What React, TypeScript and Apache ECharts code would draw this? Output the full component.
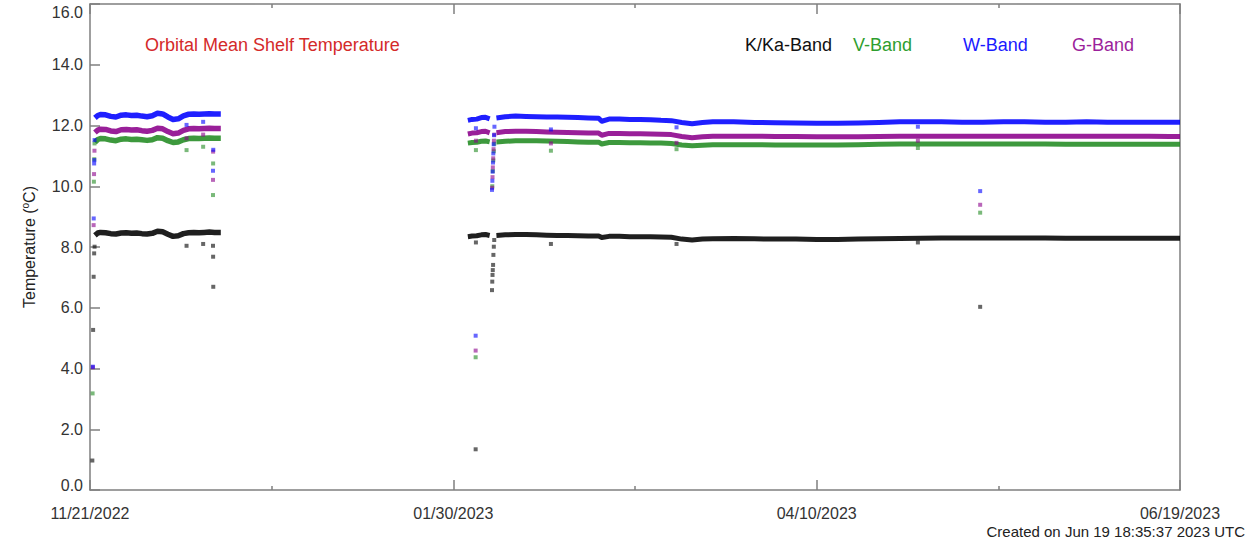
import React, { useEffect, useRef } from 'react';
import * as echarts from 'echarts';

const FONT = '"Liberation Sans", Arial, Helvetica, sans-serif';

const xTickLabels = ['11/21/2022', '01/30/2023', '04/10/2023', '06/19/2023'];
const xMin = 0;
const xMax = 210;
const xStep = 70;
const yMin = 0;
const yMax = 16;
const yStep = 2;

const titleText = 'Orbital Mean Shelf Temperature';
const bandNames = ['K/Ka-Band', 'V-Band', 'W-Band', 'G-Band'];
const createdText = 'Created on Jun 19 18:35:37 2023 UTC';

// days since 11/21/2022
const seg1Days = [0.95, 1.5, 2, 3, 4, 5, 6, 7, 8, 9, 10, 11, 12, 13, 14, 15, 16, 17, 18, 19, 20, 21, 22, 23, 24, 25.2];
const wSeg1 = [12.25, 12.33, 12.36, 12.35, 12.30, 12.28, 12.34, 12.35, 12.33, 12.34, 12.31, 12.29, 12.32, 12.40, 12.38, 12.28, 12.20, 12.22, 12.32, 12.37, 12.38, 12.37, 12.38, 12.39, 12.38, 12.38];
const gSeg1 = [11.77, 11.85, 11.88, 11.87, 11.82, 11.80, 11.86, 11.87, 11.85, 11.86, 11.83, 11.81, 11.84, 11.91, 11.89, 11.80, 11.73, 11.75, 11.84, 11.89, 11.90, 11.89, 11.90, 11.91, 11.90, 11.90];
const vSeg1 = [11.45, 11.54, 11.57, 11.56, 11.52, 11.50, 11.55, 11.56, 11.54, 11.55, 11.53, 11.51, 11.53, 11.60, 11.58, 11.50, 11.44, 11.46, 11.53, 11.57, 11.58, 11.57, 11.58, 11.59, 11.58, 11.58];
const kSeg1 = [8.38, 8.46, 8.48, 8.47, 8.44, 8.43, 8.46, 8.47, 8.45, 8.46, 8.44, 8.43, 8.45, 8.52, 8.50, 8.42, 8.35, 8.37, 8.44, 8.47, 8.48, 8.47, 8.48, 8.49, 8.48, 8.48];

const seg2aDays = [72.8, 73.6, 74.5, 75.4, 76.2, 77.0];
const wSeg2a = [12.17, 12.20, 12.21, 12.26, 12.27, 12.22];
const gSeg2a = [11.72, 11.75, 11.76, 11.80, 11.81, 11.76];
const vSeg2a = [11.42, 11.44, 11.45, 11.48, 11.49, 11.46];
const kSeg2a = [8.34, 8.36, 8.37, 8.40, 8.41, 8.38];

const seg2bDays = [78.3, 80, 82, 84, 86, 88, 90, 92, 94, 96, 98, 98.6, 100, 102, 104, 106, 108, 110, 112, 114, 116, 118, 120, 124, 128, 132, 136, 140, 144, 148, 152, 156, 160, 164, 168, 172, 176, 180, 184, 188, 192, 196, 200, 204, 208, 210];
const wSeg2b = [12.25, 12.29, 12.31, 12.30, 12.29, 12.28, 12.28, 12.27, 12.26, 12.25, 12.24, 12.14, 12.21, 12.21, 12.20, 12.20, 12.19, 12.17, 12.16, 12.10, 12.06, 12.10, 12.12, 12.12, 12.10, 12.09, 12.08, 12.07, 12.07, 12.08, 12.10, 12.12, 12.12, 12.12, 12.11, 12.11, 12.12, 12.12, 12.11, 12.11, 12.12, 12.11, 12.11, 12.11, 12.11, 12.11];
const gSeg2b = [11.76, 11.80, 11.81, 11.81, 11.80, 11.79, 11.78, 11.77, 11.76, 11.75, 11.75, 11.68, 11.74, 11.74, 11.73, 11.73, 11.72, 11.71, 11.70, 11.64, 11.60, 11.63, 11.65, 11.65, 11.65, 11.64, 11.64, 11.63, 11.63, 11.63, 11.64, 11.65, 11.65, 11.65, 11.65, 11.65, 11.65, 11.65, 11.65, 11.65, 11.65, 11.65, 11.65, 11.65, 11.64, 11.64];
const vSeg2b = [11.46, 11.48, 11.50, 11.50, 11.50, 11.49, 11.48, 11.47, 11.46, 11.45, 11.45, 11.39, 11.44, 11.44, 11.43, 11.43, 11.42, 11.42, 11.41, 11.36, 11.33, 11.35, 11.37, 11.37, 11.37, 11.36, 11.36, 11.36, 11.36, 11.37, 11.38, 11.39, 11.39, 11.39, 11.39, 11.39, 11.39, 11.39, 11.39, 11.38, 11.38, 11.38, 11.38, 11.38, 11.38, 11.38];
const kSeg2b = [8.38, 8.40, 8.41, 8.41, 8.40, 8.39, 8.38, 8.38, 8.37, 8.36, 8.36, 8.31, 8.35, 8.35, 8.34, 8.34, 8.34, 8.33, 8.32, 8.26, 8.23, 8.26, 8.27, 8.28, 8.27, 8.26, 8.26, 8.25, 8.25, 8.26, 8.27, 8.28, 8.29, 8.30, 8.30, 8.30, 8.30, 8.30, 8.30, 8.29, 8.29, 8.29, 8.29, 8.29, 8.29, 8.29];

// isolated samples [day, value]
const wOut = [[0.55, 4.06], [0.72, 8.94], [0.8, 10.75], [0.83, 10.86], [0.88, 11.52], [18.6, 12.02], [21.8, 12.12], [23.7, 10.51], [23.75, 11.2], [74.3, 5.08], [74.35, 11.91], [77.45, 9.88], [77.52, 10.18], [77.58, 10.48], [77.64, 10.78], [77.7, 11.08], [77.77, 11.38], [77.84, 11.68], [77.92, 11.96], [88.8, 11.87], [113.0, 11.94], [159.5, 11.96], [171.5, 9.84]];
const gOut = [[0.55, 4.04], [0.7, 8.72], [0.78, 10.40], [0.86, 11.17], [18.6, 11.58], [21.8, 11.70], [23.7, 10.21], [23.72, 11.14], [74.3, 4.59], [74.35, 11.50], [77.48, 9.95], [77.55, 10.3], [77.61, 10.62], [77.68, 10.92], [77.75, 11.22], [77.82, 11.5], [77.9, 11.7], [88.8, 11.41], [113.0, 11.43], [159.5, 11.50], [171.5, 9.39]];
const vOut = [[0.5, 3.18], [0.75, 10.15], [0.82, 10.89], [0.87, 11.41], [18.6, 11.19], [21.8, 11.30], [23.7, 9.71], [23.72, 10.75], [74.3, 4.37], [74.35, 11.19], [77.5, 10.0], [77.6, 10.5], [77.7, 10.85], [77.8, 11.15], [77.88, 11.4], [88.8, 11.17], [113.0, 11.22], [159.5, 11.26], [171.5, 9.13]];
const kOut = [[0.45, 0.97], [0.6, 5.27], [0.7, 7.02], [0.8, 7.79], [0.88, 8.01], [18.6, 8.04], [21.8, 8.10], [23.7, 8.04], [23.72, 7.68], [23.75, 6.69], [74.3, 1.34], [74.35, 8.15], [77.45, 6.58], [77.5, 6.86], [77.55, 7.08], [77.6, 7.24], [77.66, 7.41], [77.72, 7.74], [77.8, 8.01], [77.88, 8.23], [88.8, 8.10], [113.0, 8.10], [159.5, 8.15], [171.5, 6.03]];

const bandColors = ['#000000', '#228b22', '#0000ff', '#8b008b'];
const textColors = ['#111111', '#2e9e2e', '#1a1aff', '#9b1f9b'];

export default function App() {
  const ref = useRef<HTMLDivElement>(null);

  useEffect(() => {
    if (!ref.current) return;
    const chart = echarts.init(ref.current, null, { renderer: 'svg' });

    // index order matches bandNames / bandColors: K, V, W, G
    const bands = [
      { segs: [[seg1Days, kSeg1, 5.5], [seg2aDays, kSeg2a, 5], [seg2bDays, kSeg2b, 5]], out: kOut },
      { segs: [[seg1Days, vSeg1, 5.5], [seg2aDays, vSeg2a, 5], [seg2bDays, vSeg2b, 5]], out: vOut },
      { segs: [[seg1Days, wSeg1, 5.5], [seg2aDays, wSeg2a, 5], [seg2bDays, wSeg2b, 5]], out: wOut },
      { segs: [[seg1Days, gSeg1, 5.5], [seg2aDays, gSeg2a, 5], [seg2bDays, gSeg2b, 5]], out: gOut },
    ];
    const order = [0, 1, 3, 2];
    const series: any[] = [];
    order.forEach((bi, k) => {
      const b = bands[bi];
      const color = bandColors[bi];
      b.segs.forEach((s: any) => {
        const days = s[0] as number[];
        const vals = s[1] as number[];
        series.push({
          type: 'line',
          name: bandNames[bi],
          data: days.map((d, i) => [d, vals[i]]),
          symbol: 'none',
          showSymbol: false,
          silent: true,
          z: 2 + k,
          lineStyle: { color, width: s[2], opacity: 0.88, cap: 'butt', join: 'round' },
        });
      });
      series.push({
        type: 'scatter',
        name: bandNames[bi],
        data: b.out,
        symbol: 'rect',
        symbolSize: 4,
        silent: true,
        z: 6 + k,
        itemStyle: { color, opacity: 0.6 },
      });
    });

    const axisColor = '#7f7f7f';
    const lineStyle = { color: axisColor, width: 1.5 };

    chart.setOption({
      animation: false,
      backgroundColor: '#ffffff',
      grid: { left: 90, right: 70, top: 4, bottom: 52, containLabel: false, outerBoundsMode: 'none' },
      xAxis: [
        {
          type: 'value', min: xMin, max: xMax, interval: xStep, position: 'bottom',
          axisLine: { show: true, onZero: false, lineStyle },
          axisTick: { show: true, inside: true, length: 10, lineStyle },
          minorTick: { show: true, splitNumber: 2, length: 4, lineStyle },
          splitLine: { show: false },
          minorSplitLine: { show: false },
          axisLabel: {
            formatter: (v: number) => xTickLabels[Math.round((v - xMin) / xStep)] ?? '',
            margin: 15, fontSize: 16, color: '#333', fontFamily: FONT,
          },
        },
        {
          type: 'value', min: xMin, max: xMax, interval: xStep, position: 'top',
          axisLine: { show: true, onZero: false, lineStyle },
          axisTick: { show: true, inside: true, length: 10, lineStyle },
          minorTick: { show: true, splitNumber: 2, length: 4, lineStyle },
          splitLine: { show: false },
          axisLabel: { show: false },
        },
      ],
      yAxis: [
        {
          type: 'value', min: yMin, max: yMax, interval: yStep, position: 'left',
          axisLine: { show: true, onZero: false, lineStyle },
          axisTick: { show: true, inside: true, length: 10, lineStyle },
          splitLine: { show: false },
          axisLabel: {
            margin: 7, fontSize: 16, color: '#333', fontFamily: FONT,
            formatter: (v: number) => v === yMax ? `{top|${v.toFixed(1)}}` : v === yMin ? `{bot|${v.toFixed(1)}}` : v.toFixed(1),
            rich: {
              top: { fontSize: 16, color: '#333', fontFamily: FONT, padding: [16, 0, 0, 0] },
              bot: { fontSize: 16, color: '#333', fontFamily: FONT, padding: [0, 0, 10, 0] },
            },
          },
          name: '{a|Temperature (}{s|o}{a|C)}',
          nameLocation: 'middle',
          nameGap: 52,
          nameRotate: 90,
          nameTextStyle: {
            rich: {
              a: { fontSize: 16, color: '#222', fontFamily: FONT, lineHeight: 18 },
              s: { fontSize: 10, color: '#222', fontFamily: FONT, verticalAlign: 'top', lineHeight: 18 },
            },
          },
        },
        {
          type: 'value', min: yMin, max: yMax, interval: yStep, position: 'right',
          axisLine: { show: true, onZero: false, lineStyle },
          axisTick: { show: false },
          splitLine: { show: false },
          axisLabel: { show: false },
        },
      ],
      series,
      graphic: [
        { type: 'text', left: 145, top: 36, silent: true, style: { text: titleText, fill: '#d42a2a', fontSize: 18, fontFamily: FONT } },
        { type: 'text', left: 745, top: 36, silent: true, style: { text: bandNames[0], fill: textColors[0], fontSize: 18, fontFamily: FONT } },
        { type: 'text', left: 853, top: 36, silent: true, style: { text: bandNames[1], fill: textColors[1], fontSize: 18, fontFamily: FONT } },
        { type: 'text', left: 963, top: 36, silent: true, style: { text: bandNames[2], fill: textColors[2], fontSize: 18, fontFamily: FONT } },
        { type: 'text', left: 1072, top: 36, silent: true, style: { text: bandNames[3], fill: textColors[3], fontSize: 18, fontFamily: FONT } },
        { type: 'text', right: 5, top: 524, silent: true, style: { text: createdText, fill: '#222', fontSize: 15, fontFamily: FONT } },
      ],
    });

    return () => chart.dispose();
  }, []);

  return <div ref={ref} style={{ position: 'fixed', left: 0, top: 0, width: 1250, height: 542, background: '#fff' }} />;
}
